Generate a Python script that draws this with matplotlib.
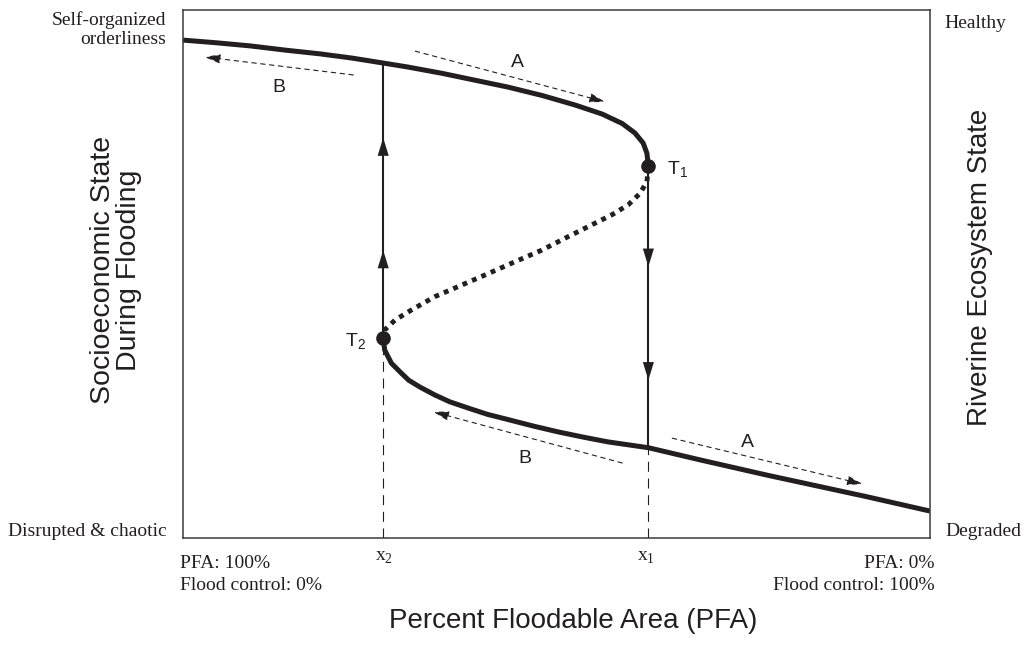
import numpy as np
import matplotlib.pyplot as plt

plt.rcParams['font.family'] = ['Liberation Sans', 'DejaVu Sans']
plt.rcParams['mathtext.fontset'] = 'custom'
plt.rcParams['mathtext.rm'] = 'Liberation Serif'
plt.rcParams['mathtext.sf'] = 'Liberation Sans'

# --- S-shaped response curve (x: 0..100 across the box, y: 0..100 up the box) ---
upper_x = [0, 4.4, 9.0, 13.7, 18.3, 22.6, 26.6, 30.1, 34.7, 39.1, 43.5, 48.1, 52.5,
           56.1, 58.8, 60.5, 61.6, 62.1, 62.3]
upper_y = [94.3, 93.8, 93.2, 92.4, 91.7, 90.9, 90.0, 89.2, 88.0, 86.7, 85.4, 83.8, 82.0,
           80.3, 78.5, 76.7, 74.8, 72.9, 70.4]

middle_x = [62.3, 62.1, 61.2, 59.6, 57.4, 54.7, 51.6, 48.0, 44.4, 40.9, 37.3, 33.7, 30.6,
            28.4, 27.0, 26.8]
middle_y = [70.4, 67.5, 65.3, 63.1, 61.2, 59.3, 57.1, 54.5, 52.3, 50.1, 47.9, 45.7, 43.2,
            41.3, 39.4, 37.8]

lower_x = [26.8, 27.0, 27.9, 29.1, 30.2, 31.7, 33.7, 35.7, 38.2, 40.8, 43.6, 46.9, 50.2,
           53.6, 56.9, 62.3, 69.2, 78.2, 91.6, 100]
lower_y = [37.8, 35.6, 33.1, 31.4, 29.9, 28.6, 27.1, 25.8, 24.6, 23.4, 22.4, 21.2, 20.1,
           19.1, 18.2, 17.1, 14.8, 11.9, 7.8, 5.1]

# tipping points
tip_names = ['T$_\\mathsf{1}$', 'T$_\\mathsf{2}$']
tip_x = [62.3, 26.8]
tip_y = [70.4, 37.8]

# jumps at the thresholds x1 and x2
x1, x2 = 62.3, 26.8
x1_hit_lower = 17.1
x2_hit_upper = 90.0
up_arrows = [75.8, 54.5]      # arrow tips on x2 line
down_arrows = [51.4, 29.9]    # arrow tips on x1 line

# dashed trend arrows (start x, start y, end x, end y) and their labels
trend_arrows = [
    (22.8, 87.7, 2.9, 91.1),
    (31.1, 92.2, 56.5, 82.6),
    (58.8, 14.2, 33.5, 23.9),
    (65.5, 18.9, 91.0, 10.2),
]
trend_labels = ['B', 'A', 'B', 'A']
label_x = [12.8, 44.8, 45.8, 75.6]
label_y = [84.5, 89.2, 14.2, 17.2]

ink = '#231f20'
W, H = 1024, 654


def px(x, y):
    return x / W, 1 - y / H


fig = plt.figure(figsize=(10.24, 6.54), dpi=100)
ax = fig.add_axes([183 / W, 116 / H, 747 / W, 528 / H])
ax.set_xlim(0, 100)
ax.set_ylim(0, 100)
ax.set_xticks([])
ax.set_yticks([])
for s in ax.spines.values():
    s.set_color('#3a3a3a')
    s.set_linewidth(1.1)

# curve
ax.plot(upper_x, upper_y, color=ink, lw=3.6, solid_capstyle='butt', solid_joinstyle='round')
ax.plot(lower_x, lower_y, color=ink, lw=3.6, solid_capstyle='butt', solid_joinstyle='round')
ax.plot(middle_x, middle_y, color=ink, lw=3.5, ls=(0, (1, 1.1)))

# threshold lines
ax.plot([x2, x2], [tip_y[1], x2_hit_upper], color=ink, lw=1.5)
ax.plot([x1, x1], [tip_y[0], x1_hit_lower], color=ink, lw=1.5)
ax.plot([x2, x2], [0, tip_y[1]], color=ink, lw=0.8, ls=(0, (9, 6)))
ax.plot([x1, x1], [0, x1_hit_lower], color=ink, lw=0.8, ls=(0, (9, 6)))

for yt in up_arrows:
    ax.annotate('', xy=(x2, yt), xytext=(x2, yt - 8),
                arrowprops=dict(arrowstyle='-|>,head_length=1.3,head_width=0.4',
                                lw=0, color=ink, shrinkA=0, shrinkB=0))
for yt in down_arrows:
    ax.annotate('', xy=(x1, yt), xytext=(x1, yt + 8),
                arrowprops=dict(arrowstyle='-|>,head_length=1.3,head_width=0.4',
                                lw=0, color=ink, shrinkA=0, shrinkB=0))

ax.plot(tip_x, tip_y, 'o', color=ink, ms=9.5, zorder=5)

for (xa, ya, xb, yb) in trend_arrows:
    ax.annotate('', xy=(xb, yb), xytext=(xa, ya),
                arrowprops=dict(arrowstyle='-|>,head_length=0.95,head_width=0.28',
                                lw=0.8, ls=(0, (4, 4)), color=ink, shrinkA=0, shrinkB=0))
for t, lx, ly in zip(trend_labels, label_x, label_y):
    ax.text(lx, ly, t, fontsize=14, ha='center', va='baseline', color=ink)

ax.text(64.8, 68.75, tip_names[0], fontsize=14, ha='left', va='baseline', color=ink)
ax.text(24.5, 36.2, tip_names[1], fontsize=14, ha='right', va='baseline', color=ink)

# labels around the box
serif = dict(family='Liberation Serif', fontsize=14, color=ink)
fig.text(*px(166, 11), 'Self-organized\norderliness', ha='right', va='top',
         multialignment='right', linespacing=1.18, **serif)
fig.text(*px(167, 531), 'Disrupted & chaotic', ha='right', va='center', **serif)
fig.text(*px(944, 23), 'Healthy', ha='left', va='center', **serif)
fig.text(*px(945, 532), 'Degraded', ha='left', va='center', **serif)
fig.text(*px(180, 555), 'PFA: 100%\nFlood control: 0%', ha='left', va='top',
         linespacing=1.4, **serif)
fig.text(*px(935, 555), 'PFA: 0%\nFlood control: 100%', ha='right', va='top',
         multialignment='right', linespacing=1.4, **serif)
fig.text(*px(384, 557), r'$\mathrm{x}_\mathrm{2}$', ha='center', va='center', fontsize=14, color=ink)
fig.text(*px(646, 557), r'$\mathrm{x}_\mathrm{1}$', ha='center', va='center', fontsize=14, color=ink)

fig.text(*px(573, 621), 'Percent Floodable Area (PFA)', ha='center', va='center',
         fontsize=20, color=ink)
fig.text(*px(116, 270), 'Socioeconomic State\nDuring Flooding', rotation=90,
         ha='center', va='center', multialignment='center', linespacing=1.0,
         fontsize=20.5, color=ink)
fig.text(*px(980, 267), 'Riverine Ecosystem State', rotation=90,
         ha='center', va='center', fontsize=20, color=ink)

fig.savefig('out.png', dpi=100)
